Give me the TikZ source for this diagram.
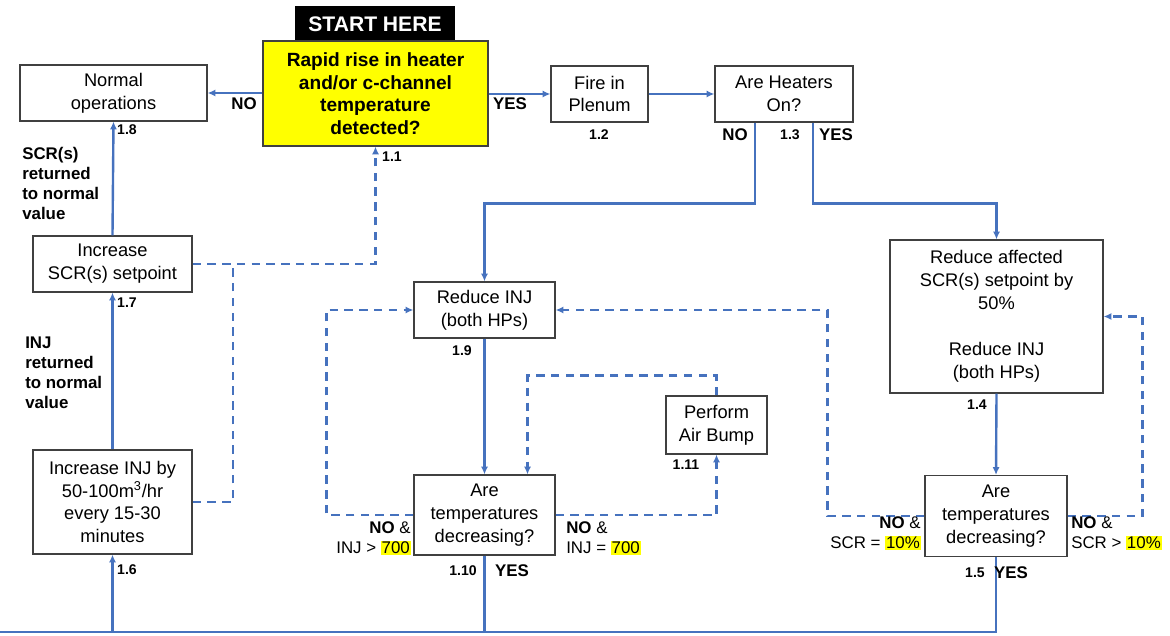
\documentclass[tikz,border=0pt]{standalone}
\usepackage{fontspec}
\setmainfont{Liberation Sans}
\usetikzlibrary{positioning,arrows.meta,calc}
\definecolor{flowblue}{RGB}{70,114,190}
\definecolor{hiyellow}{RGB}{255,255,0}
\newcommand{\hl}[1]{{\setlength{\fboxsep}{0.6pt}\colorbox{hiyellow}{#1}}}

\begin{document}
\begin{tikzpicture}[x=0.025cm,y=-0.025cm,>={Latex[length=5.5pt,width=5pt]},
  box/.style={draw=black!75,line width=0.8pt,fill=white,align=center,inner sep=2pt,
    font=\fontsize{13}{16.3}\selectfont},
  flow/.style={draw=flowblue,line width=1.7pt},
  loopback/.style={flow,dash pattern=on 6pt off 4.5pt},
  num/.style={font=\fontsize{10}{12}\selectfont\bfseries,inner sep=0pt},
  tag/.style={font=\fontsize{12}{14.2}\selectfont\bfseries,inner sep=0pt},
  cond/.style={font=\fontsize{12}{14.6}\selectfont,inner sep=0pt}]
  \useasboundingbox (0,0) rectangle (1170,636);

  % top row
  \node[fill=black,text=white,minimum width=4cm,minimum height=0.875cm,
    font=\fontsize{15}{18}\selectfont\bfseries] (start) at (375,24) {START HERE};
  \node[box,fill=hiyellow,minimum width=5.625cm,minimum height=2.625cm,
    font=\fontsize{13.6}{16}\selectfont\bfseries] (detect) at (375.5,93.5)
    {Rapid rise in heater\\and/or c-channel\\temperature\\detected?};
  \node[box,minimum width=4.675cm,minimum height=1.4cm] (normal) at (113.5,93) {Normal\\operations};
  \node[box,minimum width=2.425cm,minimum height=1.4cm] (fire) at (599.5,94) {Fire in\\Plenum};
  \node[box,minimum width=3.45cm,minimum height=1.4cm] (heaters) at (784,94) {Are Heaters\\On?};

  % left column
  \node[box,minimum width=3.975cm,minimum height=1.4cm] (scrup) at (112.5,264) {Increase\\SCR(s) setpoint};
  \node[box,minimum width=3.975cm,minimum height=2.6cm] (injup) at (112.5,502)
    {Increase INJ by\\50-100m\textsuperscript{3}/hr\\every 15-30\\minutes};

  % heaters off branch
  \node[box,minimum width=3.525cm,minimum height=1.4cm] (reduce) at (484.5,310) {Reduce INJ\\(both HPs)};
  \node[box,minimum width=3.525cm,minimum height=2cm] (dec10) at (484.5,515) {Are\\temperatures\\decreasing?};
  \node[box,minimum width=2.525cm,minimum height=1.45cm] (bump) at (716.5,425) {Perform\\Air Bump};

  % heaters on branch
  \node[box,minimum width=5.325cm,minimum height=3.825cm] (cut) at (996.5,316.5)
    {Reduce affected\\SCR(s) setpoint by\\50\%\\[16.3pt]Reduce INJ\\(both HPs)};
  \node[box,minimum width=3.55cm,minimum height=2.025cm] (dec5) at (996,516) {Are\\temperatures\\decreasing?};

  \coordinate (floor) at (0,632);
  \coordinate (jn) at (233,264);

  % solid connectors
  \draw[flow,->] (detect.west |- normal.east) -- (normal.east);
  \draw[flow,->] (detect.east |- fire.west) -- (fire.west);
  \draw[flow,->] (fire.east) -- (heaters.west);
  \draw[flow,->] ([xshift=-0.725cm]heaters.south) -- ++(0,81) -| (reduce.north);
  \draw[flow,->] ([xshift=0.725cm]heaters.south) -- ++(0,81) -| (cut.north);
  \draw[flow,->] (reduce.south) -- (dec10.north);
  \draw[flow,->] (cut.south) -- (dec5.north);
  \draw[flow,->] (scrup.north) -- (normal.south);
  \draw[flow,->] (injup.north) -- (scrup.south);
  \draw[flow] (dec10.south) -- (dec10.south |- floor);
  \draw[flow,->] (dec5.south) |- (floor) -| (injup.south);

  % dashed loops
  \draw[loopback,->] (scrup.east) -| (detect.south);
  \draw[loopback] (injup.east) -| (jn);
  \draw[loopback,->] (dec10.west) -- ++(-87,0) |- (reduce.west);
  \draw[loopback,->] (dec10.east) -| (bump.south);
  \draw[loopback,->] (bump.north) -- ++(0,-20) -| ([xshift=1.075cm]dec10.north);
  \draw[loopback,->] (dec5.west) -- ++(-97,0) |- (reduce.east);
  \draw[loopback,->] (dec5.east) -- ++(75,0) |- (cut.east);

  % labels
  \node[tag] (noa) at (244,104) {NO};
  \node[tag] (yesa) at (510,104) {YES};
  \node[tag] (nob) at (735,135) {NO};
  \node[tag] (yesb) at (836,135) {YES};
  \node[tag] (yesc) at (512,571) {YES};
  \node[tag] (yesd) at (1011,573) {YES};
  \node[num] (n11) at (392,157) {1.1};
  \node[num] (n12) at (599,135) {1.2};
  \node[num] (n13) at (790,135) {1.3};
  \node[num] (n14) at (977,405) {1.4};
  \node[num] (n15) at (975,573) {1.5};
  \node[num] (n16) at (127,570) {1.6};
  \node[num] (n17) at (127,303) {1.7};
  \node[num] (n18) at (127,130) {1.8};
  \node[num] (n19) at (462,351) {1.9};
  \node[num] (n110) at (463,571) {1.10};
  \node[num] (n111) at (686,465) {1.11};
  \node[tag,align=left,anchor=north west] (scrback) at (22,147) {SCR(s)\\returned\\to normal\\value};
  \node[tag,align=left,anchor=north west] (injback) at (25,337) {INJ\\returned\\to normal\\value};
  \node[cond,align=right,anchor=north east] (c1) at (411,521) {\textbf{NO} \&\\INJ > \hl{700}};
  \node[cond,align=left,anchor=north west] (c2) at (566,521) {\textbf{NO} \&\\INJ = \hl{700}};
  \node[cond,align=right,anchor=north east] (c3) at (921,516) {\textbf{NO} \&\\SCR = \hl{10\%}};
  \node[cond,align=left,anchor=north west] (c4) at (1071,516) {\textbf{NO} \&\\SCR > \hl{10\%}};
\end{tikzpicture}
\end{document}
